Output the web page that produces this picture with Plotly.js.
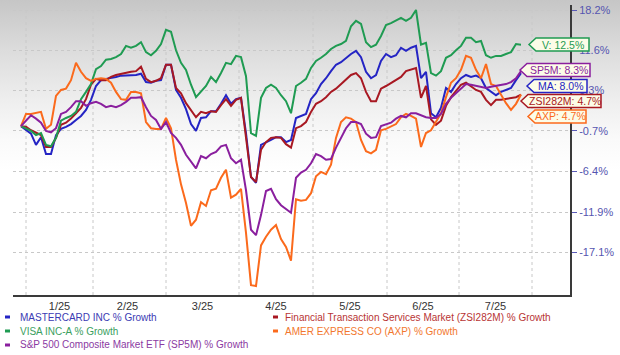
<!DOCTYPE html>
<html><head><meta charset="utf-8">
<script src="https://cdn.plot.ly/plotly-3.0.1.min.js"></script>
<style>
html,body{margin:0;padding:0;}
body{width:620px;height:355px;overflow:hidden;background:linear-gradient(to bottom,#c6c6c6 0px,#dcdcdc 50px,#eeeeee 100px,#fafafa 140px,#ffffff 170px,#ffffff 355px);}
#chart{width:620px;height:355px;}
</style></head><body><div id="chart"></div>
<script>
// Month tick labels (centred in each month) and month boundaries (gridlines), in trading-sample index units
const monthLabels = ['1/25','2/25','3/25','4/25','5/25','6/25','7/25'];
const monthMid = [7.7, 21.3, 36.3, 51.0, 65.8, 80.4, 94.9];
const monthBounds = [1, 14.4, 29, 43.6, 58.4, 73.2, 87.6, 102.2];
// Right-axis tick labels (% growth)
const yTickPct = [18.2, 11.6, 5.3, -0.7, -6.4, -11.9, -17.1];
const SCALE_OFFSET = 120; // the source chart's log scale is log(120 + growth%)

// % growth series
const ma = [0.0,-0.6,-1.1,-2.7,-1.6,-4.0,-4.0,-1.3,-0.4,-0.1,
  0.3,0.9,1.5,2.4,3.9,6.0,6.9,7.1,7.2,7.4,
  7.6,7.6,7.7,7.7,7.9,6.6,6.5,6.8,6.9,9.3,
  9.3,5.4,4.2,2.5,0.3,-0.7,1.2,1.3,2.2,2.2,
  3.3,4.6,3.3,4.0,4.2,-1.0,-7.2,-8.0,-2.7,-2.4,
  -2.0,-1.6,-1.6,-2.3,-2.0,1.2,1.5,1.8,4.0,4.9,
  6.3,7.2,8.3,9.3,9.7,10.4,11.0,11.5,10.5,8.2,
  7.2,7.7,9.9,11.0,10.5,10.8,12.0,11.5,12.0,12.3,
  7.2,8.2,1.9,1.3,2.7,5.7,5.1,6.3,7.2,7.7,
  7.4,7.6,7.2,5.7,5.1,4.6,5.1,5.4,5.7,6.9,
  8.0];
const zsi = [0.0,-0.1,-0.6,-1.0,-1.3,-3.0,-3.0,-1.7,0.2,0.5,
  1.1,1.9,2.7,4.0,6.2,7.1,6.9,6.9,7.4,7.7,
  7.9,8.0,8.2,8.3,9.0,7.1,6.6,6.8,7.2,9.3,
  9.3,5.7,4.9,3.4,2.4,1.3,2.1,1.9,2.2,2.1,
  3.1,4.0,3.0,3.9,4.2,-1.5,-7.2,-7.9,-3.4,-2.3,
  -1.7,-1.6,-1.7,-2.6,-3.1,-0.3,0.0,0.6,2.1,3.3,
  3.7,4.3,5.1,5.6,6.3,7.1,7.7,8.0,7.2,5.1,
  3.7,3.7,5.6,6.0,6.5,6.9,7.4,8.3,8.6,8.8,
  4.2,6.0,1.0,0.2,0.8,3.0,4.3,5.2,6.2,6.5,
  5.9,5.4,5.1,3.9,3.1,3.9,3.9,4.0,4.2,4.3,
  4.7];
const visa = [0.0,-0.3,-0.7,-1.3,-1.0,-2.7,-2.9,-1.7,0.8,1.2,
  1.5,2.1,4.0,5.1,6.3,8.6,9.1,10.1,10.2,10.5,
  11.0,12.3,12.0,12.3,12.9,11.3,10.8,11.5,12.6,14.9,
  14.6,11.6,9.6,8.5,6.2,4.3,5.1,6.0,7.4,6.6,
  8.0,9.6,9.4,10.7,10.5,7.5,-1.0,-1.4,4.2,5.7,
  6.2,5.7,4.6,3.7,1.9,6.0,6.5,7.1,8.8,9.9,
  10.4,11.0,11.8,12.3,12.6,13.1,15.5,16.4,15.9,12.9,
  12.1,12.5,13.9,15.7,16.0,16.5,16.9,16.4,16.9,18.2,
  12.5,12.8,8.0,7.6,8.3,10.4,10.8,11.6,12.3,13.6,
  13.6,12.9,13.1,10.8,10.4,10.7,10.7,11.0,11.3,12.6,
  12.5];
const axp = [0.0,1.8,1.8,1.9,2.1,-0.4,0.2,4.5,5.4,5.6,
  6.9,9.6,8.2,7.2,6.8,7.1,7.2,7.1,6.5,5.1,
  4.0,3.9,5.1,5.1,4.9,0.6,-0.3,-0.4,-0.4,1.2,
  -0.3,-4.8,-8.2,-10.7,-13.7,-12.9,-10.6,-11.1,-9.0,-8.8,
  -7.3,-6.2,-10.0,-9.6,-8.8,-14.6,-21.1,-21.2,-16.2,-15.1,
  -14.2,-13.6,-15.4,-16.4,-18.1,-10.2,-10.4,-10.3,-9.4,-7.1,
  -6.5,-6.8,-5.5,-1.7,0.6,1.3,1.1,0.6,-2.0,-3.6,
  -3.9,-3.4,-0.6,-0.4,-0.1,0.3,1.3,1.8,1.5,1.1,
  -3.0,-1.0,-0.6,0.6,1.9,4.3,6.5,7.2,8.5,10.7,
  10.4,8.5,7.2,9.4,6.3,6.0,4.6,3.4,2.4,3.3,
  4.7];
const sp5m = [0.0,0.8,1.6,1.1,0.5,-0.7,-0.9,-0.3,1.8,2.1,
  2.8,3.7,3.7,3.0,3.4,3.6,3.3,2.8,3.0,2.8,
  3.1,3.6,4.2,4.2,4.3,2.8,1.5,0.9,-0.4,0.6,
  -1.0,-1.7,-2.7,-4.1,-5.1,-6.0,-4.3,-4.6,-4.0,-3.7,
  -2.9,-2.7,-4.6,-5.3,-4.8,-9.0,-14.2,-14.9,-12.3,-9.1,
  -8.8,-10.2,-11.0,-11.5,-12.0,-7.3,-6.6,-6.2,-5.3,-4.0,
  -4.3,-4.8,-4.7,-3.1,-1.7,-0.3,0.6,0.6,0.3,-1.1,
  -1.7,-1.6,0.0,0.3,0.5,1.1,1.5,1.3,1.9,1.9,
  1.6,1.3,1.2,1.2,1.8,3.3,4.2,4.9,5.7,6.3,
  6.2,6.0,5.9,5.7,5.9,6.0,6.2,6.3,6.6,7.2,
  8.3];

const dayIndex = ma.map((_, i) => i);

const series = [
  {name:'MASTERCARD INC % Growth', tag:'MA', y:ma, color:'#2424c4', text:'#3b3bb4', col:0, row:0},
  {name:'Financial Transaction Services Market (ZSI282M) % Growth', tag:'ZSI282M', y:zsi, color:'#a81822', text:'#b83434', col:1, row:0},
  {name:'VISA INC-A % Growth', tag:'V', y:visa, color:'#1f9b52', text:'#3aa060', col:0, row:1},
  {name:'AMER EXPRESS CO (AXP) % Growth', tag:'AXP', y:axp, color:'#fb6a1c', text:'#f2772e', col:1, row:1},
  {name:'S&P 500 Composite Market ETF (SP5M) % Growth', tag:'SP5M', y:sp5m, color:'#8a1f9e', text:'#8b3aa2', col:0, row:2}
];

const W = 620, H = 355, ML = 13, MR = 50, MT = 5, MB = 60;
const PW = W - ML - MR, PH = H - MT - MB;
const px = X => (X - ML) / PW;
const py = Y => 1 - (Y - MT) / PH;

const SANS = "'Liberation Sans', Arial, sans-serif";

const traces = series.map(s => ({
  type:'scatter', mode:'lines', name:s.name, x:dayIndex,
  y:s.y.map(v => v + SCALE_OFFSET),
  line:{color:s.color, width:2}, showlegend:false, hoverinfo:'skip'
}));

const shapes = [];
const annotations = [];

// vertical month gridlines
monthBounds.forEach(b => shapes.push({type:'line', xref:'x', yref:'paper', x0:b, x1:b, y0:0, y1:1,
  line:{color:'#c8c8c8', width:1, dash:'dot'}, layer:'below'}));

// legend (two columns)
const legCols = [{dash:[5,10], text:18}, {dash:[273,278], text:283}];
const legRows = [317, 331, 345];
series.forEach(s => {
  const c = legCols[s.col], yy = legRows[s.row];
  shapes.push({type:'line', xref:'paper', yref:'paper', x0:px(c.dash[0]), x1:px(c.dash[1]), y0:py(yy), y1:py(yy),
    line:{color:s.color, width:3}});
  annotations.push({xref:'paper', yref:'paper', x:px(c.text), y:py(yy), xanchor:'left', yanchor:'middle',
    text:s.name, showarrow:false, font:{family:SANS, size:10, color:s.text}});
});

// end-value tags
const tagPos = {V:{tip:529,right:589,cy:44.5}, SP5M:{tip:520,right:590,cy:70}, MA:{tip:527,right:587,cy:86},
  ZSI282M:{tip:521,right:601,cy:101}, AXP:{tip:528,right:586,cy:116.5}};
series.forEach(s => {
  const p = tagPos[s.tag], h = 6.5, notch = 7;
  const path = `M${px(p.tip)},${py(p.cy)} L${px(p.tip+notch)},${py(p.cy-h)} L${px(p.right)},${py(p.cy-h)} L${px(p.right)},${py(p.cy+h)} L${px(p.tip+notch)},${py(p.cy+h)} Z`;
  shapes.push({type:'path', xref:'paper', yref:'paper', path:path, fillcolor:'#fcfce8',
    line:{color:s.color, width:1.5}, layer:'above'});
  const last = s.y[s.y.length - 1];
  annotations.push({xref:'paper', yref:'paper', x:px((p.tip + notch + p.right) / 2), y:py(p.cy),
    xanchor:'center', yanchor:'middle', showarrow:false, text:`${s.tag}: ${last.toFixed(1)}%`,
    font:{family:SANS, size:10.5, color:s.color}});
});

const layout = {
  width:W, height:H, margin:{l:ML, r:MR, t:MT, b:MB},
  paper_bgcolor:'rgba(0,0,0,0)', plot_bgcolor:'rgba(0,0,0,0)',
  showlegend:false,
  xaxis:{range:[-1.6, 109.8], tickvals:monthMid, ticktext:monthLabels, ticks:'', showgrid:false,
    zeroline:false, showline:true, linecolor:'#3a3a3a', linewidth:2, fixedrange:true,
    tickfont:{family:SANS, size:11, color:'#333333'}},
  yaxis:{type:'log', side:'right', range:[1.99001, 2.14315],
    tickvals:yTickPct.map(v => v + SCALE_OFFSET), ticktext:yTickPct.map(v => v.toFixed(1) + '%'),
    ticks:'outside', ticklen:5, tickcolor:'#5a5ab8', tickwidth:1,
    showgrid:true, gridcolor:'#c8c8c8', griddash:'dot', zeroline:false,
    showline:true, linecolor:'#3a3a3a', linewidth:2, fixedrange:true,
    tickfont:{family:SANS, size:11, color:'#5555b0'}},
  shapes:shapes, annotations:annotations
};

Plotly.newPlot('chart', traces, layout, {staticPlot:true, displayModeBar:false});
</script></body></html>
